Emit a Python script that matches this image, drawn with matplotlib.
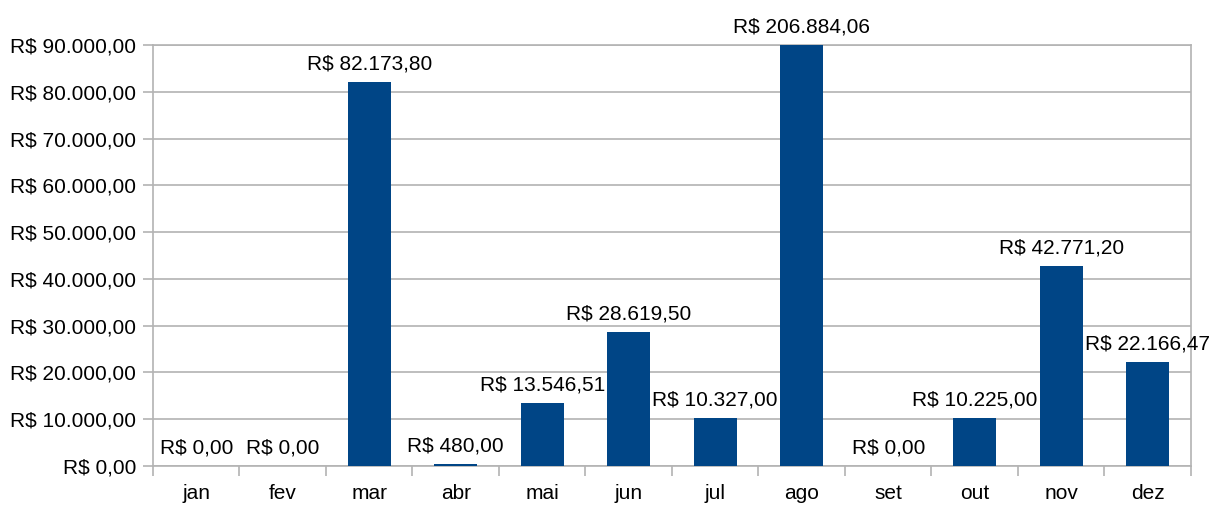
import numpy as np
import matplotlib
matplotlib.use('Agg')
import matplotlib.pyplot as plt
from matplotlib.ticker import FuncFormatter

# Monthly values (R$)
months = ['jan', 'fev', 'mar', 'abr', 'mai', 'jun', 'jul', 'ago', 'set', 'out', 'nov', 'dez']
values = [0.00, 0.00, 82173.80, 480.00, 13546.51, 28619.50, 10327.00,
          206884.06, 0.00, 10225.00, 42771.20, 22166.47]
y_ticks = [0, 10000, 20000, 30000, 40000, 50000, 60000, 70000, 80000, 90000]

BAR = '#004586'
GRID = '#b3b3b3'
Y_MAX = 90000

plt.rcParams['font.family'] = ['Liberation Sans', 'DejaVu Sans']


def brl(v, _pos=None):
    s = f'{v:,.2f}'
    s = s.replace(',', 'X').replace('.', ',').replace('X', '.')
    return f'R$ {s}'


fig = plt.figure(figsize=(12.17, 5.08), dpi=100)
ax = fig.add_axes([0.1257, 0.0827, 0.9786 - 0.1257, 0.9114 - 0.0827])

x = np.arange(len(months))
shown = [min(v, Y_MAX) for v in values]
ax.bar(x, shown, width=0.5, color=BAR, zorder=3)

for xi, v, s in zip(x, values, shown):
    ax.annotate(brl(v), (xi, s), xytext=(0, 6), textcoords='offset points',
                ha='center', va='bottom', fontsize=15, color='#000000',
                annotation_clip=False, zorder=4)

ax.set_xlim(-0.5, len(months) - 0.5)
ax.set_ylim(0, Y_MAX)
ax.set_yticks(y_ticks)
ax.yaxis.set_major_formatter(FuncFormatter(brl))
ax.yaxis.grid(True, color=GRID, linewidth=1.2, zorder=0)

ax.set_xticks(x)
ax.set_xticklabels(months)
ax.set_xticks(np.arange(len(months) + 1) - 0.5, minor=True)
ax.tick_params(axis='x', which='major', length=0, pad=13, labelsize=15)
ax.tick_params(axis='x', which='minor', length=7, width=1.2, color=GRID)
ax.tick_params(axis='y', length=7, width=1.2, color=GRID, pad=5, labelsize=15)

for sp in ax.spines.values():
    sp.set_color(GRID)
    sp.set_linewidth(1.2)

fig.savefig('out.png', dpi=100, facecolor='white')
